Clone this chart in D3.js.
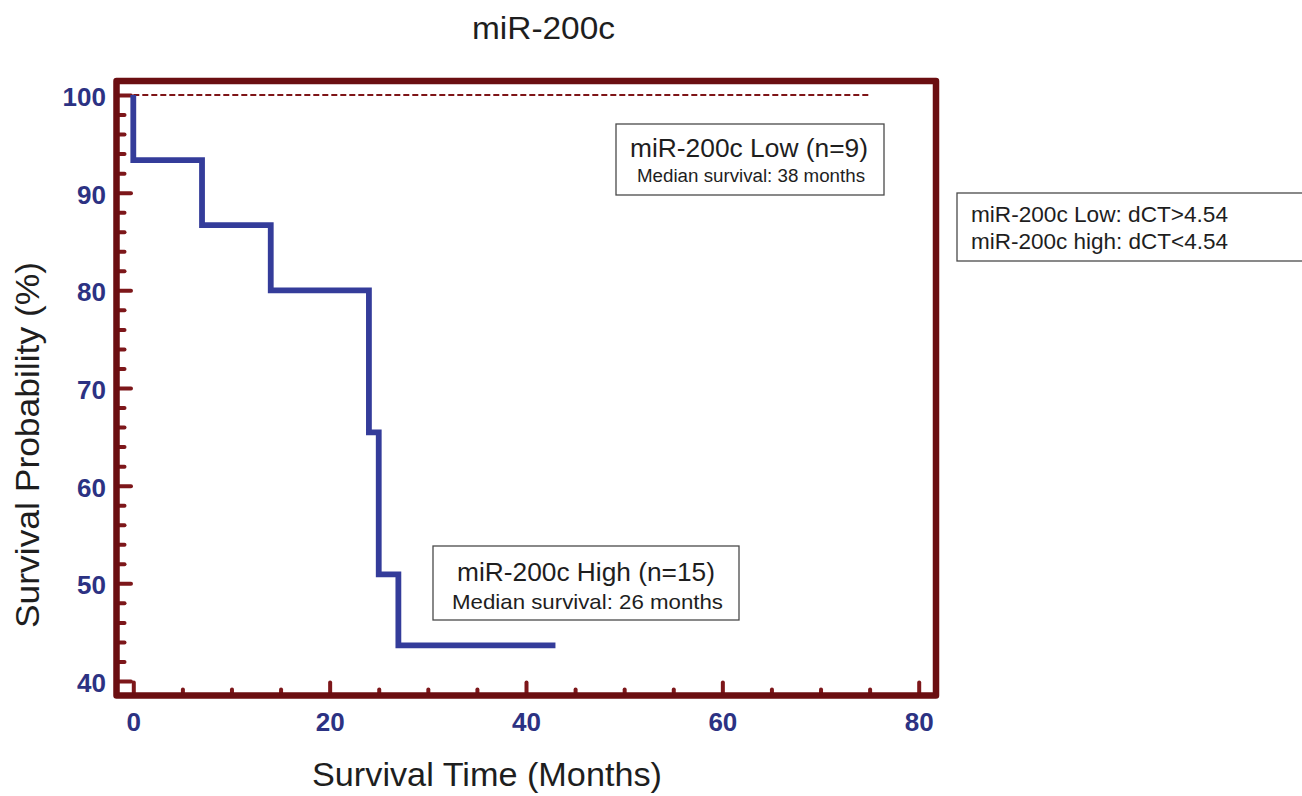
<!DOCTYPE html>
<html>
<head>
<meta charset="utf-8">
<script src="https://cdn.jsdelivr.net/npm/d3@7"></script>
<style>
	body { margin: 0; background: #fff; }
	svg { display: block; font-family: "Liberation Sans", Arial, Helvetica, sans-serif; }
</style>
</head>
<body>
<svg id="chart" width="1302" height="796"></svg>
<script>
// miR-200c High group, Kaplan-Meier steps (months, % surviving after each event)
const eventTimes = [0, 7, 14, 24, 25, 27];
const survivalHigh = [93.33, 86.67, 80, 65.45, 50.91, 43.64];
const lastFollowUpHigh = 43;

// miR-200c Low group: no events, followed until ~75 months
const lowLine = [[0, 100], [75, 100]];

const xMajor = [0, 20, 40, 60, 80];
const xMinor = [5, 10, 15, 25, 30, 35, 45, 50, 55, 65, 70, 75];
const yMajor = [40, 50, 60, 70, 80, 90, 100];
const yMinor = [42, 44, 46, 48, 52, 54, 56, 58, 62, 64, 66, 68, 72, 74, 76, 78, 82, 84, 86, 88, 92, 94, 96, 98];

const title = 'miR-200c';
const xLabel = 'Survival Time (Months)';
const yLabel = 'Survival Probability (%)';
const lowLegend = ['miR-200c Low (n=9)', 'Median survival: 38 months'];
const highLegend = ['miR-200c High (n=15)', 'Median survival: 26 months'];
const cutoffLegend = ['miR-200c Low: dCT>4.54', 'miR-200c high: dCT<4.54'];

const frame = { left: 116.5, right: 936, top: 81, bottom: 695.5 };
const maroon = '#6b0e11';
const tickColor = '#7d171a';
const navy = '#2c3283';
const ink = '#1e1e1e';

const svg = d3.select('#chart');

const x = d3.scaleLinear().domain([0, 80]).range([133.3, 918.7]);
const y = d3.scaleLinear().domain([40, 100]).range([681, 95]);

// axes: ticks point into the plot
function styleAxis(g) {
	g.select('.domain').remove();
	g.selectAll('.tick line')
		.attr('stroke', tickColor)
		.attr('stroke-width', 4)
		.attr('stroke-linecap', 'round');
	g.selectAll('.tick text')
		.attr('fill', navy)
		.attr('font-size', 26)
		.attr('font-weight', 'bold')
		.attr('font-family', null);
}

svg.append('g')
	.attr('transform', `translate(0,${frame.bottom})`)
	.call(d3.axisBottom(x).tickValues(xMinor).tickSizeInner(-6).tickSizeOuter(0).tickFormat(''))
	.call(styleAxis);

svg.append('g')
	.attr('transform', `translate(0,${frame.bottom})`)
	.call(d3.axisBottom(x).tickValues(xMajor).tickSizeInner(-13).tickSizeOuter(0).tickPadding(17))
	.call(styleAxis);

svg.append('g')
	.attr('transform', `translate(${frame.left},0)`)
	.call(d3.axisLeft(y).tickValues(yMinor).tickSizeInner(-8).tickSizeOuter(0).tickFormat(''))
	.call(styleAxis);

svg.append('g')
	.attr('transform', `translate(${frame.left},0)`)
	.call(d3.axisLeft(y).tickValues(yMajor).tickSizeInner(-14.5).tickSizeOuter(0).tickPadding(10.5))
	.call(styleAxis)
	.selectAll('.tick text').attr('dy', '0.4em');

// frame
svg.append('rect')
	.attr('x', frame.left)
	.attr('y', frame.top)
	.attr('width', frame.right - frame.left)
	.attr('height', frame.bottom - frame.top)
	.attr('fill', 'none')
	.attr('stroke', maroon)
	.attr('stroke-width', 6.5)
	.attr('stroke-linejoin', 'round');

// low group reference (dashed)
svg.append('path')
	.attr('d', d3.line().x(d => x(d[0])).y(d => y(d[1]))(lowLine))
	.attr('fill', 'none')
	.attr('stroke', '#7e1417')
	.attr('stroke-width', 1.8)
	.attr('stroke-dasharray', '6,3');

// high group KM curve
const kmPoints = [[0, 100]]
	.concat(eventTimes.map((t, i) => [t, survivalHigh[i]]))
	.concat([[lastFollowUpHigh, survivalHigh[survivalHigh.length - 1]]]);

svg.append('path')
	.attr('d', d3.line().x(d => x(d[0])).y(d => y(d[1])).curve(d3.curveStepAfter)(kmPoints))
	.attr('fill', 'none')
	.attr('stroke', '#343c9a')
	.attr('stroke-width', 5.8)
	.attr('stroke-linejoin', 'miter');

// the source font runs wider than Liberation Sans, so widths are pinned
function label(parent, t, px, py, size, width, anchor) {
	return parent.append('text')
		.attr('x', px)
		.attr('y', py)
		.attr('text-anchor', anchor || 'middle')
		.attr('font-size', size)
		.attr('fill', ink)
		.attr('textLength', width)
		.attr('lengthAdjust', 'spacingAndGlyphs')
		.text(t);
}

function box(rect, lines, opts) {
	let g = svg.append('g');
	g.append('rect')
		.attr('x', rect[0]).attr('y', rect[1])
		.attr('width', rect[2]).attr('height', rect[3])
		.attr('fill', '#fff')
		.attr('stroke', '#4a4a4a')
		.attr('stroke-width', 1.3);
	lines.forEach((t, i) => {
		let o = opts[i];
		label(g, t, o.x, o.y, o.size, o.width, o.anchor);
	});
}

box([616, 124, 268, 71], lowLegend, [
	{ x: 749, y: 157, size: 25, width: 238 },
	{ x: 751, y: 182, size: 18, width: 228 }
]);
box([433, 546, 306, 74], highLegend, [
	{ x: 586, y: 581, size: 25.5, width: 258 },
	{ x: 587.5, y: 609, size: 21, width: 271 }
]);
box([957, 193, 370, 68], cutoffLegend, [
	{ x: 971, y: 222, size: 21.5, width: 257, anchor: 'start' },
	{ x: 971, y: 249, size: 21.5, width: 257, anchor: 'start' }
]);

// titles
label(svg, title, 543.5, 39, 31, 143);
label(svg, xLabel, 487, 786, 33, 350);
label(svg, yLabel, 0, 0, 34, 366)
	.attr('transform', 'translate(39,445) rotate(-90)');
</script>
</body>
</html>
